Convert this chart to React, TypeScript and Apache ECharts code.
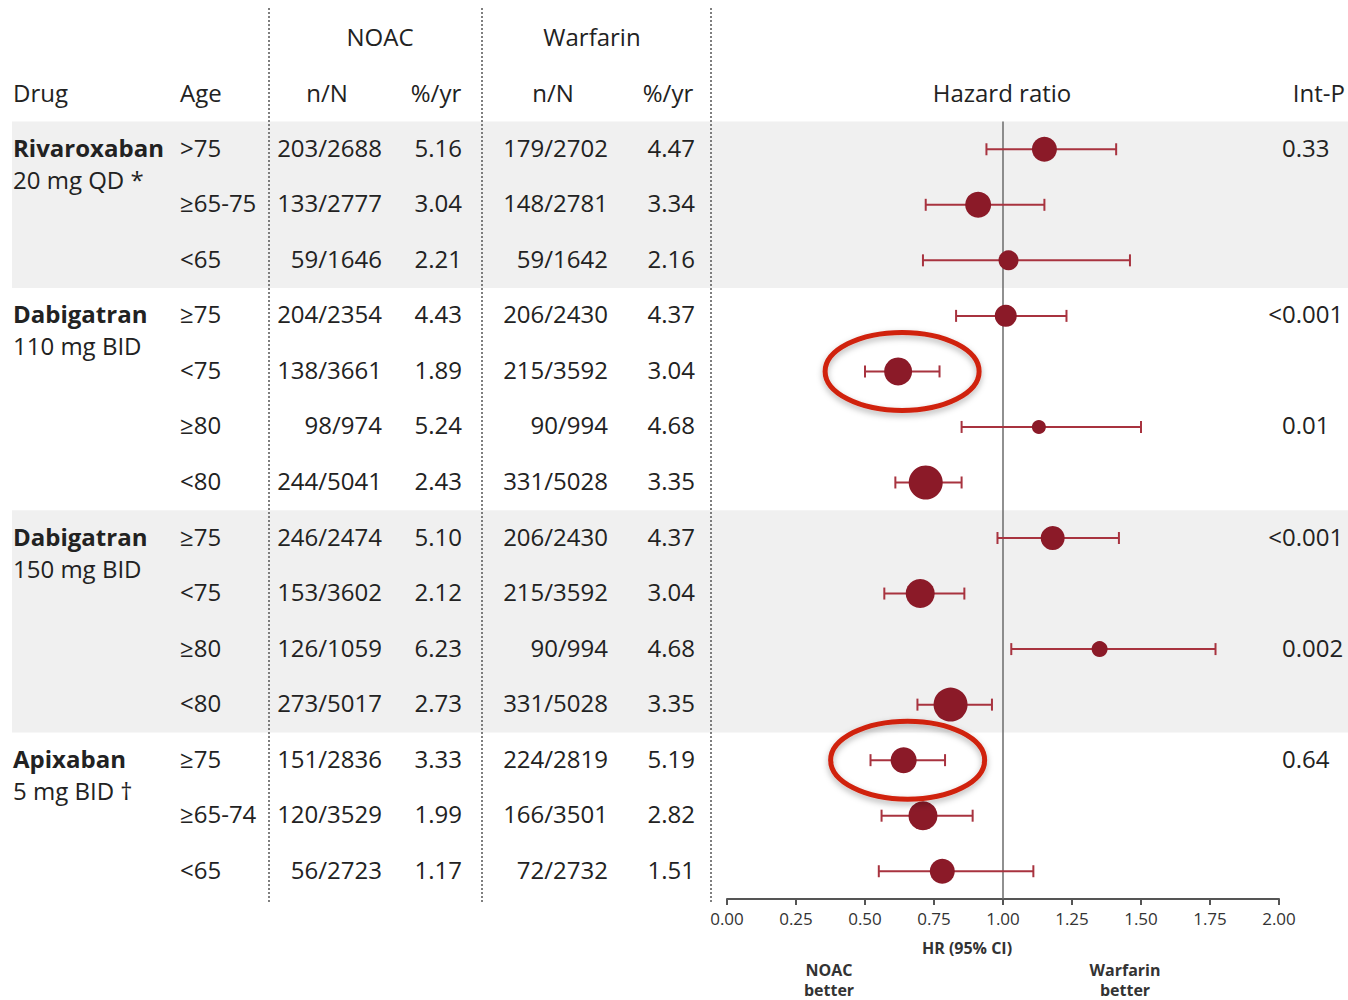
import React, { useEffect, useRef } from "react";
import * as echarts from "echarts";

// ---------- data ----------
const drugNames = ["Rivaroxaban", "Dabigatran", "Dabigatran", "Apixaban"];
const drugDoses = ["20 mg QD *", "110 mg BID", "150 mg BID", "5 mg BID †"];
const groupSizes = [3, 4, 4, 3];
const shadedGroups = [true, false, true, false];

const ages = [">75", "≥65-75", "<65", "≥75", "<75", "≥80", "<80", "≥75", "<75", "≥80", "<80", "≥75", "≥65-74", "<65"];
const noacEvents = ["203/2688", "133/2777", "59/1646", "204/2354", "138/3661", "98/974", "244/5041", "246/2474", "153/3602", "126/1059", "273/5017", "151/2836", "120/3529", "56/2723"];
const noacRates = ["5.16", "3.04", "2.21", "4.43", "1.89", "5.24", "2.43", "5.10", "2.12", "6.23", "2.73", "3.33", "1.99", "1.17"];
const warfEvents = ["179/2702", "148/2781", "59/1642", "206/2430", "215/3592", "90/994", "331/5028", "206/2430", "215/3592", "90/994", "331/5028", "224/2819", "166/3501", "72/2732"];
const warfRates = ["4.47", "3.34", "2.16", "4.37", "3.04", "4.68", "3.35", "4.37", "3.04", "4.68", "3.35", "5.19", "2.82", "1.51"];
const interactionP = ["0.33", "", "", "<0.001", "", "0.01", "", "<0.001", "", "0.002", "", "0.64", "", ""];

const hazardRatio = [1.15, 0.91, 1.02, 1.01, 0.62, 1.13, 0.72, 1.18, 0.70, 1.35, 0.81, 0.64, 0.71, 0.78];
const ciLow = [0.94, 0.72, 0.71, 0.83, 0.50, 0.85, 0.61, 0.98, 0.57, 1.03, 0.69, 0.52, 0.56, 0.55];
const ciHigh = [1.41, 1.15, 1.46, 1.23, 0.77, 1.50, 0.85, 1.42, 0.86, 1.77, 0.96, 0.79, 0.89, 1.11];
const markerSize = [25, 26, 20, 22, 28, 14, 34, 24, 29, 16, 34, 26, 29, 25];
const highlightedRows = [4, 11];

const xTickValues = [0, 0.25, 0.5, 0.75, 1, 1.25, 1.5, 1.75, 2];

// ---------- style ----------
const FONT = "Open Sans";
const TXT = "#222";
const DOT_RED = "#8b1a28";
const BAR_RED = "#a8333f";

export default function App() {
  const ref = useRef<HTMLDivElement>(null);

  useEffect(() => {
    document.body.style.margin = "0";
    const chart = echarts.init(ref.current!, null, { renderer: "svg" });
    const rowIdx = ages.map((_, i) => String(i));

    chart.setOption({
      animation: false,
      grid: { left: 727, right: 69, top: 121.5, bottom: 101 },
      xAxis: {
        type: "value",
        min: xTickValues[0],
        max: xTickValues[xTickValues.length - 1],
        interval: 0.25,
        splitLine: { show: false },
        axisLine: { show: true, lineStyle: { color: "#555", width: 2 } },
        axisTick: { show: true, length: 6, lineStyle: { color: "#555", width: 2 } },
        axisLabel: {
          formatter: (v: number) => v.toFixed(2),
          fontFamily: FONT,
          fontSize: 17,
          color: "#333",
          margin: 11,
          letterSpacing: -1,
        },
      },
      yAxis: {
        type: "category",
        data: rowIdx,
        inverse: true,
        show: false,
      },
      series: [
        {
          type: "custom",
          name: "ci",
          encode: { x: [0, 1], y: 2 },
          data: ciLow.map((l, i) => [l, ciHigh[i], i]),
          z: 3,
          renderItem: (params: any, api: any) => {
            const a = api.coord([api.value(0), api.value(2)]);
            const b = api.coord([api.value(1), api.value(2)]);
            const st = { stroke: BAR_RED, lineWidth: 2 };
            return {
              type: "group",
              children: [
                { type: "line", shape: { x1: a[0], y1: a[1], x2: b[0], y2: b[1] }, style: st },
                { type: "line", shape: { x1: a[0], y1: a[1] - 6, x2: a[0], y2: a[1] + 6 }, style: st },
                { type: "line", shape: { x1: b[0], y1: b[1] - 6, x2: b[0], y2: b[1] + 6 }, style: st },
              ],
            };
          },
        },
        {
          type: "scatter",
          name: "hr",
          z: 4,
          data: hazardRatio.map((v, i) => ({ value: [v, i], symbolSize: markerSize[i] })),
          itemStyle: { color: DOT_RED, opacity: 1 },
          markLine: {
            silent: true,
            symbol: "none",
            label: { show: false },
            lineStyle: { color: "#6b6b6b", width: 1.5, type: "solid" },
            data: [{ xAxis: 1 }],
            z: 1,
          },
        },
      ],
    });

    // compute pixel positions via axes
    const rowY = (i: number) => chart.convertToPixel({ yAxisIndex: 0 }, i) as number;
    const band = rowY(1) - rowY(0);
    const TY = -2; // text baseline nudge
    const graphics: any[] = [];

    // shaded bands
    let start = 0;
    groupSizes.forEach((n, g) => {
      if (shadedGroups[g]) {
        const y0 = rowY(start) - band / 2;
        const y1 = rowY(start + n - 1) + band / 2;
        graphics.push({
          type: "rect",
          z: -10,
          shape: { x: 12, y: y0, width: 1336, height: y1 - y0 },
          style: { fill: "#f0f0f0" },
          silent: true,
        });
      }
      const yy = rowY(start) + TY;
      graphics.push({
        type: "text",
        x: 13,
        y: yy,
        style: { text: drugNames[g], font: `bold 24px "${FONT}"`, fill: TXT, align: "left", verticalAlign: "middle" },
      });
      graphics.push({
        type: "text",
        x: 13,
        y: yy + 32,
        style: { text: drugDoses[g], font: `24px "${FONT}"`, fill: TXT, align: "left", verticalAlign: "middle" },
      });
      start += n;
    });

    const txt = (text: string, x: number, y: number, align: string, extra: any = {}) => ({
      type: "text",
      x,
      y,
      z: 10,
      style: { text, font: `24px "${FONT}"`, fill: TXT, align, verticalAlign: "middle", ...extra },
    });

    // table rows
    ages.forEach((a, i) => {
      const y = rowY(i) + TY;
      graphics.push(txt(a, 180, y, "left"));
      graphics.push(txt(noacEvents[i], 382, y, "right"));
      graphics.push(txt(noacRates[i], 462, y, "right"));
      graphics.push(txt(warfEvents[i], 608, y, "right"));
      graphics.push(txt(warfRates[i], 695, y, "right"));
      const p = interactionP[i];
      if (p) {
        if (p.startsWith("<")) {
          graphics.push(txt("<", 1282, y, "right"));
          graphics.push(txt(p.slice(1), 1282, y, "left"));
        } else {
          graphics.push(txt(p, 1282, y, "left"));
        }
      }
    });

    // headers
    graphics.push(txt("NOAC", 380, 36, "center"));
    graphics.push(txt("Warfarin", 592, 36, "center"));
    graphics.push(txt("Drug", 13, 92, "left"));
    graphics.push(txt("Age", 180, 92, "left"));
    graphics.push(txt("n/N", 327, 92, "center"));
    graphics.push(txt("%/yr", 436, 92, "center"));
    graphics.push(txt("n/N", 553, 92, "center"));
    graphics.push(txt("%/yr", 668, 92, "center"));
    graphics.push(txt("Hazard ratio", 1002, 92, "center"));
    graphics.push(txt("Int-P", 1345, 92, "right"));

    // dotted separators
    [269, 482, 711].forEach((x) => {
      graphics.push({
        type: "line",
        z: 5,
        shape: { x1: x, y1: 8, x2: x, y2: 903 },
        style: { stroke: "#555", lineWidth: 1.5, lineDash: [2, 2] },
        silent: true,
      });
    });

    // axis captions
    const bold16 = `bold 16px "${FONT}"`;
    graphics.push(txt("HR (95% CI)", 967, 948, "center", { font: bold16, fill: "#333" }));
    graphics.push(txt("NOAC\nbetter", 829, 980, "center", { font: bold16, fill: "#333", lineHeight: 20 }));
    graphics.push(txt("Warfarin\nbetter", 1125, 980, "center", { font: bold16, fill: "#333", lineHeight: 20 }));

    // highlight ellipses
    highlightedRows.forEach((r) => {
      const pt = chart.convertToPixel({ gridIndex: 0 }, [hazardRatio[r], r]) as number[];
      graphics.push({
        type: "ellipse",
        z: 20,
        shape: { cx: pt[0] + 4, cy: pt[1], rx: 77, ry: 39 },
        style: {
          fill: "none",
          stroke: "#d0210f",
          lineWidth: 5,
          shadowBlur: 6,
          shadowColor: "rgba(0,0,0,0.3)",
          shadowOffsetY: 3,
        },
        silent: true,
      });
    });

    chart.setOption({ graphic: graphics });

    return () => chart.dispose();
  }, []);

  return <div ref={ref} style={{ width: 1348, height: 1000 }} />;
}
